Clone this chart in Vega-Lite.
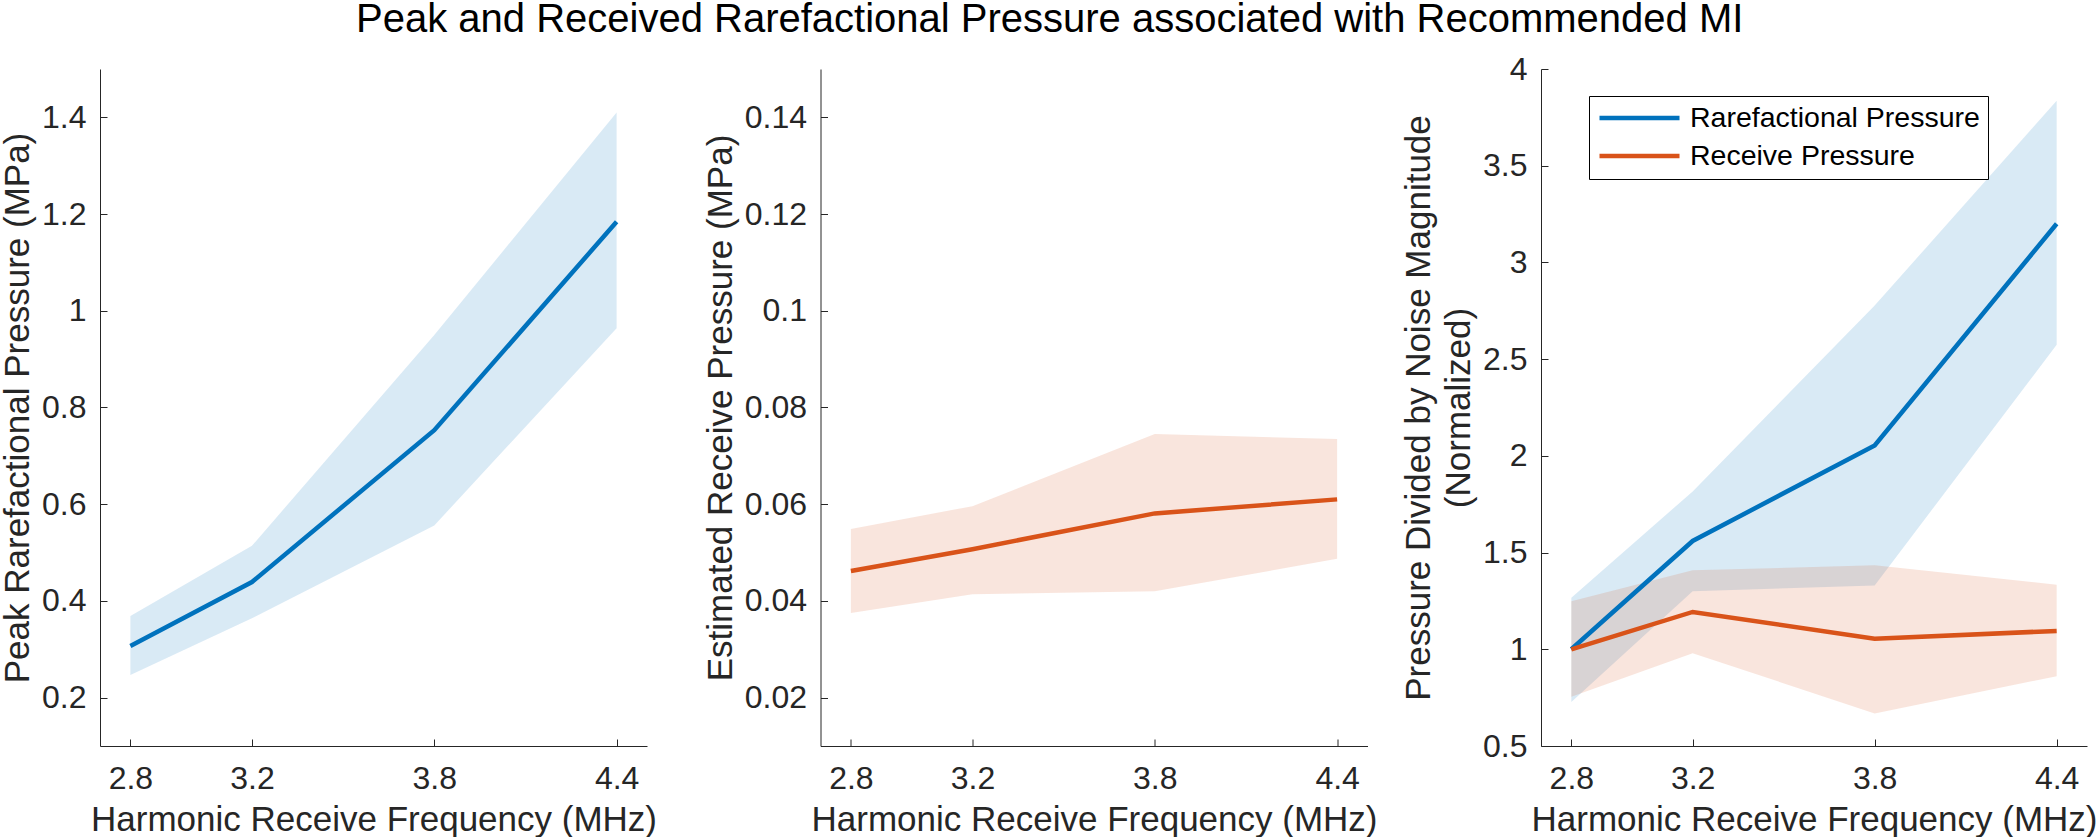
{
  "$schema": "https://vega.github.io/schema/vega-lite/v6.json",
  "padding": {"left": 0, "top": 0, "right": 0, "bottom": 0},
  "background": "white",
  "title": {
    "text": "Peak and Received Rarefactional Pressure associated with Recommended MI",
    "fontSize": 40,
    "font": "Liberation Sans",
    "fontWeight": "normal",
    "color": "black",
    "anchor": "start",
    "frame": "group",
    "dx": 256,
    "offset": 13
  },
  "config": {
    "font": "Liberation Sans",
    "view": {"stroke": null},
    "axis": {
      "grid": false,
      "domainColor": "#262626",
      "domainWidth": 1,
      "tickColor": "#262626",
      "tickWidth": 1,
      "tickSize": -7,
      "labelColor": "#262626",
      "labelFont": "Liberation Sans",
      "labelFontSize": 32,
      "titleFont": "Liberation Sans",
      "titleFontSize": 35,
      "titleFontWeight": "normal",
      "titleColor": "#262626"
    },
    "axisX": {"labelPadding": 24, "titlePadding": 8, "labelFlush": false},
    "axisY": {"labelPadding": 21, "titlePadding": 6, "labelFlush": false}
  },
  "data": {
    "values": [
      {"panel": 1, "series": "Rarefactional Pressure", "freq": 2.8, "mean": 0.307, "lo": 0.247, "hi": 0.369},
      {"panel": 1, "series": "Rarefactional Pressure", "freq": 3.2, "mean": 0.439, "lo": 0.364, "hi": 0.514},
      {"panel": 1, "series": "Rarefactional Pressure", "freq": 3.8, "mean": 0.753, "lo": 0.556, "hi": 0.95},
      {"panel": 1, "series": "Rarefactional Pressure", "freq": 4.4, "mean": 1.184, "lo": 0.964, "hi": 1.41},
      {"panel": 2, "series": "Receive Pressure", "freq": 2.8, "mean": 0.0462, "lo": 0.0375, "hi": 0.0549},
      {"panel": 2, "series": "Receive Pressure", "freq": 3.2, "mean": 0.0507, "lo": 0.0414, "hi": 0.0596},
      {"panel": 2, "series": "Receive Pressure", "freq": 3.8, "mean": 0.0581, "lo": 0.042, "hi": 0.0745},
      {"panel": 2, "series": "Receive Pressure", "freq": 4.4, "mean": 0.061, "lo": 0.0487, "hi": 0.0735},
      {"panel": 3, "series": "Rarefactional Pressure", "freq": 2.8, "mean": 1.0, "lo": 0.728, "hi": 1.267},
      {"panel": 3, "series": "Rarefactional Pressure", "freq": 3.2, "mean": 1.56, "lo": 1.3, "hi": 1.816},
      {"panel": 3, "series": "Rarefactional Pressure", "freq": 3.8, "mean": 2.054, "lo": 1.33, "hi": 2.777},
      {"panel": 3, "series": "Rarefactional Pressure", "freq": 4.4, "mean": 3.2, "lo": 2.574, "hi": 3.836},
      {"panel": 3, "series": "Receive Pressure", "freq": 2.8, "mean": 1.0, "lo": 0.754, "hi": 1.248},
      {"panel": 3, "series": "Receive Pressure", "freq": 3.2, "mean": 1.193, "lo": 0.98, "hi": 1.408},
      {"panel": 3, "series": "Receive Pressure", "freq": 3.8, "mean": 1.055, "lo": 0.668, "hi": 1.434},
      {"panel": 3, "series": "Receive Pressure", "freq": 4.4, "mean": 1.095, "lo": 0.861, "hi": 1.334}
    ]
  },
  "bounds": "flush",
  "spacing": 173.5,
  "resolve": {"legend": {"stroke": "independent"}},
  "hconcat": [
    {
      "width": 547,
      "height": 677,
      "transform": [{"filter": "datum.panel == 1"}],
      "encoding": {
        "x": {
          "field": "freq", "type": "quantitative",
          "scale": {"domain": [2.7, 4.5], "nice": false, "zero": false},
          "axis": {"values": [2.8, 3.2, 3.8, 4.4], "format": ".1f", "title": "Harmonic Receive Frequency (MHz)"}
        }
      },
      "layer": [
        {
          "mark": {"type": "area", "color": "#0072BD", "fillOpacity": 0.15},
          "encoding": {
            "y": {"field": "lo", "type": "quantitative",
              "scale": {"domain": [0.1, 1.5], "nice": false, "zero": false},
              "axis": {"values": [0.2, 0.4, 0.6, 0.8, 1, 1.2, 1.4], "format": ".1~f", "title": "Peak Rarefactional Pressure (MPa)"}},
            "y2": {"field": "hi"}
          }
        },
        {
          "mark": {"type": "line", "color": "#0072BD", "strokeWidth": 4.5},
          "encoding": {"y": {"field": "mean", "type": "quantitative"}}
        }
      ]
    },
    {
      "width": 547,
      "height": 677,
      "transform": [{"filter": "datum.panel == 2"}],
      "encoding": {
        "x": {
          "field": "freq", "type": "quantitative",
          "scale": {"domain": [2.7, 4.5], "nice": false, "zero": false},
          "axis": {"values": [2.8, 3.2, 3.8, 4.4], "format": ".1f", "title": "Harmonic Receive Frequency (MHz)"}
        }
      },
      "layer": [
        {
          "mark": {"type": "area", "color": "#D95319", "fillOpacity": 0.15},
          "encoding": {
            "y": {"field": "lo", "type": "quantitative",
              "scale": {"domain": [0.01, 0.15], "nice": false, "zero": false},
              "axis": {"values": [0.02, 0.04, 0.06, 0.08, 0.1, 0.12, 0.14], "format": ".2~f", "title": "Estimated Receive Pressure (MPa)"}},
            "y2": {"field": "hi"}
          }
        },
        {
          "mark": {"type": "line", "color": "#D95319", "strokeWidth": 4.5},
          "encoding": {"y": {"field": "mean", "type": "quantitative"}}
        }
      ]
    },
    {
      "width": 546,
      "height": 677,
      "transform": [{"filter": "datum.panel == 3"}],
      "encoding": {
        "x": {
          "field": "freq", "type": "quantitative",
          "scale": {"domain": [2.7, 4.5], "nice": false, "zero": false},
          "axis": {"values": [2.8, 3.2, 3.8, 4.4], "format": ".1f", "title": "Harmonic Receive Frequency (MHz)"}
        }
      },
      "layer": [
        {
          "mark": {"type": "area", "fillOpacity": 0.15},
          "encoding": {
            "y": {"field": "lo", "type": "quantitative",
              "scale": {"domain": [0.5, 4], "nice": false, "zero": false},
              "axis": {"values": [0.5, 1, 1.5, 2, 2.5, 3, 3.5, 4], "format": ".1~f",
                "title": ["Pressure Divided by Noise Magnitude", "(Normalized)"], "titleLineHeight": 40}},
            "y2": {"field": "hi"},
            "fill": {"field": "series", "type": "nominal",
              "scale": {"domain": ["Rarefactional Pressure", "Receive Pressure"], "range": ["#0072BD", "#D95319"]},
              "legend": null}
          }
        },
        {
          "mark": {"type": "line", "strokeWidth": 4.5},
          "encoding": {
            "y": {"field": "mean", "type": "quantitative"},
            "stroke": {"field": "series", "type": "nominal",
              "scale": {"domain": ["Rarefactional Pressure", "Receive Pressure"], "range": ["#0072BD", "#D95319"]},
              "legend": {
                "title": null,
                "orient": "none",
                "legendX": 48,
                "legendY": 27,
                "symbolType": "stroke",
                "symbolSize": 6400,
                "symbolStrokeWidth": 4.5,
                "clipHeight": 28,
                "rowPadding": 9,
                "padding": 8,
                "labelOffset": 8,
                "labelFont": "Liberation Sans",
                "labelFontSize": 28.5,
                "labelColor": "black",
                "labelLimit": 400,
                "strokeColor": "black",
                "fillColor": "white"
              }}
          }
        }
      ]
    }
  ]
}
